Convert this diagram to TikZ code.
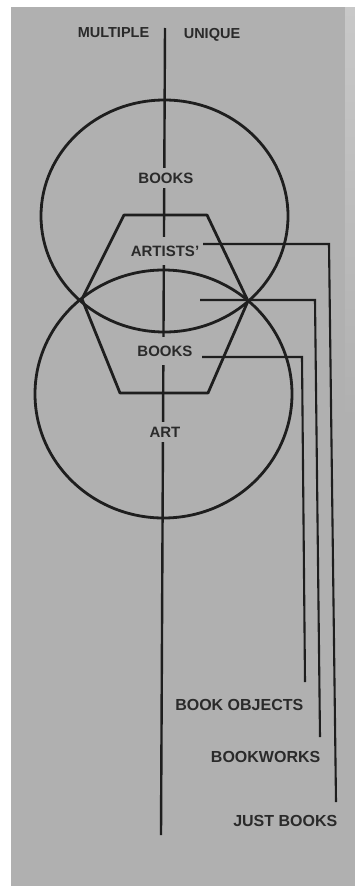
\documentclass[tikz,border=0pt]{standalone}
\usepackage{fontspec}
\setmainfont{Liberation Sans}
\definecolor{bg}{RGB}{176,176,176}
\definecolor{bglight}{RGB}{200,200,200}
\definecolor{ink}{RGB}{30,30,30}
\definecolor{txt}{RGB}{42,42,42}
\begin{document}
\begin{tikzpicture}[x=1pt,y=-1pt,
  lbl/.style={font=\bfseries\fontsize{15}{18}\selectfont, text=txt, inner xsep=1.5pt, inner ysep=1.5pt},
  small/.style={font=\bfseries\fontsize{14.5}{17}\selectfont},
  big/.style={font=\bfseries\fontsize{16}{19}\selectfont},
  cut/.style={lbl, fill=bg},
  ln/.style={draw=ink, line width=2.8pt},
  axis/.style={draw=ink, line width=2.4pt},
  lead/.style={draw=ink, line width=2.1pt, line join=miter}]
\useasboundingbox (0,0) rectangle (355,886);
\fill[white] (0,0) rectangle (355,886);
\fill[bg] (11,7) rectangle (355,886);
\shade[top color=bglight, bottom color=bg] (345,7) rectangle (355,420);
% axis
\coordinate (top) at (165,28);
\coordinate (bot) at (161,835);
\draw[axis] (top) -- (bot);
% labels on the axis (they break it)
\node[cut, inner ysep=5pt] (books1) at (166,178) {BOOKS};
\node[cut, inner ysep=9pt] (artists) at (165,251) {ARTISTS'};
\node[cut, inner ysep=9pt] (books2) at (165,351) {BOOKS};
\node[cut, inner ysep=5pt] (art) at (165,432) {ART};
% top labels
\node[lbl, small] (multiple) at (113.5,33) {MULTIPLE};
\node[lbl, small] (unique) at (212,35) {UNIQUE};
% circles and hexagon
\draw[ln] (164.5,216) ellipse [x radius=123.5, y radius=116];
\draw[ln] (163.5,394) ellipse [x radius=128.5, y radius=124];
\draw[ln, line join=round] (124,215) -- (207,215) -- (248,301) -- (208,393) -- (120,393) -- (82,299) -- cycle;
% bottom labels
\node[lbl, big, anchor=east] (bobj) at (305,705) {BOOK OBJECTS};
\node[lbl, big, anchor=east] (bworks) at (322,757) {BOOKWORKS};
\node[lbl, big, anchor=east] (jbooks) at (339,821) {JUST BOOKS};
% leaders
\coordinate (j1) at (203,244);
\coordinate (j2) at (329,244);
\coordinate (j3) at (336,802);
\coordinate (w1) at (200,300);
\coordinate (w2) at (315,300);
\coordinate (w3) at (320,737);
\coordinate (o1) at (202,357);
\coordinate (o2) at (302,357);
\coordinate (o3) at (305,682);
\draw[lead] (j1) -- (j2) -- (j3);
\draw[lead] (w1) -- (w2) -- (w3);
\draw[lead] (o1) -- (o2) -- (o3);
\end{tikzpicture}
\end{document}
